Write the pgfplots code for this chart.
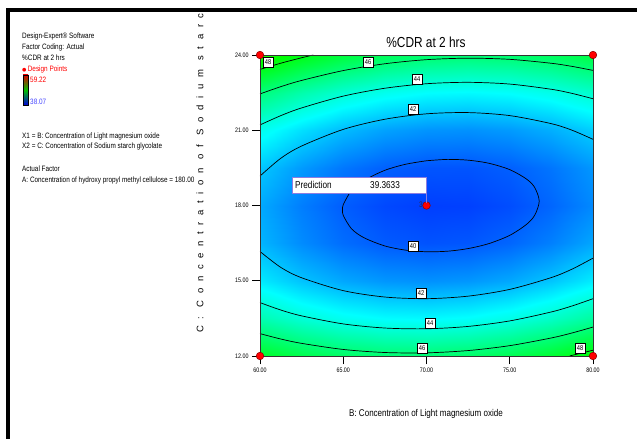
\documentclass[border=0pt]{standalone}
\usepackage{fontspec}
\setmainfont{Liberation Sans}
\newfontfamily\narrow[FakeStretch=0.82]{Liberation Sans}
\newfontfamily\spaced[LetterSpace=70]{Liberation Sans}
\newfontfamily\dejavu{DejaVu Sans}
\usepackage{pgfplots}
\pgfplotsset{compat=1.18}

\definecolor{ptred}{RGB}{255,0,0}
\definecolor{ptedge}{RGB}{140,0,0}
\definecolor{boxedge}{RGB}{140,125,225}
\definecolor{lowblue}{RGB}{70,70,255}
\definecolor{cntlbl}{RGB}{40,40,90}

% response surface, %CDR at 2 hrs
\pgfplotstableread{
x y f
60 12 47.81
62.5 12 47.08
65 12 46.58
67.5 12 46.32
70 12 46.29
72.5 12 46.50
75 12 46.95
77.5 12 47.63
80 12 48.55
60 13.5 44.94
62.5 13.5 44.16
65 13.5 43.62
67.5 13.5 43.31
70 13.5 43.25
72.5 13.5 43.41
75 13.5 43.82
77.5 13.5 44.46
80 13.5 45.33
60 15 42.95
62.5 15 42.12
65 15 41.54
67.5 15 41.19
70 15 41.08
72.5 15 41.20
75 15 41.56
77.5 15 42.16
80 15 42.99
60 16.5 41.83
62.5 16.5 40.96
65 16.5 40.33
67.5 16.5 39.94
70 16.5 39.78
72.5 16.5 39.86
75 16.5 40.18
77.5 16.5 40.73
80 16.5 41.52
60 18 41.58
62.5 18 40.67
65 18 40.00
67.5 18 39.56
70 18 39.36
72.5 18 39.40
75 18 39.67
77.5 18 40.18
80 18 40.92
60 19.5 42.21
62.5 19.5 41.26
65 19.5 40.54
67.5 19.5 40.06
70 19.5 39.82
72.5 19.5 39.81
75 19.5 40.04
77.5 19.5 40.50
80 19.5 41.20
60 21 43.72
62.5 21 42.72
65 21 41.96
67.5 21 41.43
70 21 41.15
72.5 21 41.09
75 21 41.28
77.5 21 41.70
80 21 42.36
60 22.5 46.10
62.5 22.5 45.06
65 22.5 44.25
67.5 22.5 43.68
70 22.5 43.35
72.5 22.5 43.26
75 22.5 43.40
77.5 22.5 43.78
80 22.5 44.39
60 24 49.35
62.5 24 48.27
65 24 47.42
67.5 24 46.81
70 24 46.43
72.5 24 46.29
75 24 46.39
77.5 24 46.72
80 24 47.29
}\cdrgrid

\begin{document}
\begin{tikzpicture}
\useasboundingbox (0,0) rectangle (637pt,439pt);

\begin{axis}[
    at={(260pt,83pt)}, anchor=south west,
    width=333pt, height=301pt, scale only axis,
    view={0}{90},
    xmin=60, xmax=80, ymin=12, ymax=24,
    xtick={60,65,70,75,80}, ytick={12,15,18,21,24},
    ztick=\empty,
    xtick pos=left, ytick pos=left,
    tick align=outside, major tick length=8pt,
    tick style={black, line width=0.6pt},
    axis line style={line width=0.6pt, black!80},
    ticklabel style={font=\narrow\fontsize{6.5}{7}\selectfont,
        /pgf/number format/assume math mode=true,
        /pgf/number format/fixed, /pgf/number format/fixed zerofill,
        /pgf/number format/precision=2},
    colormap={de}{rgb255=(0,0,255) rgb255=(0,255,255) rgb255=(0,255,0) rgb255=(255,255,0) rgb255=(255,0,0)},
    point meta min=38.07, point meta max=59.22,
    clip=false, axis on top,
    contline/.style={black, line width=0.7pt, smooth, no marks},
]
\addplot3[surf, shader=interp, mesh/cols=9] table[x=x, y=y, z=f] {\cdrgrid};

% contour lines
\addplot3[contline] coordinates {(60,23.425,48) (61.25,23.673,48) (62.5,23.890,48) (63.2,24.0,48)};
\addplot3[contline] coordinates {(60,22.448,46) (61.25,22.738,46) (62.5,22.986,46) (65,23.379,46) (67.5,23.651,46) (70,23.814,46) (72.5,23.873,46) (75,23.827,46) (77.5,23.670,46) (78.75,23.545,46) (80,23.386,46)};
\addplot3[contline] coordinates {(60,21.212,44) (61.25,21.583,44) (62.5,21.890,44) (65,22.361,44) (67.5,22.675,44) (70,22.855,44) (72.5,22.911,44) (75,22.841,44) (77.5,22.633,44) (78.75,22.468,44) (80,22.256,44)};
\addplot3[contline] coordinates {(60,19.174,42) (61.25,19.883,42) (62.5,20.371,42) (65,21.034,42) (67.5,21.439,42) (70,21.655,42) (72.5,21.704,42) (75,21.584,42) (77.5,21.262,42) (78.75,20.999,42) (80,20.638,42)};
\addplot3[contline] coordinates {(70,19.784,40) (71.25,19.838,40) (72.5,19.807,40) (73.75,19.683,40) (75,19.430,40) (76,19.057,40) (76.5,18.716,40) (76.77,18.173,40) (76.5,17.614,40) (76,17.243,40) (75,16.810,40) (73.75,16.482,40) (72.5,16.283,40) (71.25,16.177,40) (70,16.156,40) (68.75,16.220,40) (67.5,16.387,40) (66.25,16.714,40) (65.5,17.069,40) (65,17.604,40) (64.96,17.82,40) (65,18.036,40) (65.5,18.601,40) (66.25,19.001,40) (67.5,19.403,40) (68.75,19.645,40) (70,19.784,40)};
\addplot3[contline] coordinates {(60,16.166,42) (61.25,15.532,42) (62.5,15.119,42) (65,14.606,42) (67.5,14.351,42) (70,14.285,42) (72.5,14.386,42) (75,14.656,42) (77.5,15.128,42) (78.75,15.466,42) (80,15.902,42)};
\addplot3[contline] coordinates {(60,14.128,44) (61.25,13.832,44) (62.5,13.600,44) (65,13.279,44) (67.5,13.115,44) (70,13.085,44) (72.5,13.179,44) (75,13.399,44) (77.5,13.757,44) (78.75,13.997,44) (80,14.284,44)};
\addplot3[contline] coordinates {(60,12.892,46) (61.25,12.677,46) (62.5,12.504,46) (65,12.261,46) (67.5,12.139,46) (70,12.126,46) (72.5,12.217,46) (75,12.413,46) (77.5,12.720,46) (78.75,12.920,46) (80,13.154,46)};
\addplot3[contline] coordinates {(78.6,12.0,48) (78.75,12.027,48) (79.375,12.126,48) (80,12.231,48)};

% design points
\addplot3[only marks, mark=*, mark size=3.8pt, mark options={fill=ptred, draw=ptedge, line width=0.5pt}]
    coordinates {(60,12,50) (60,24,50) (80,12,50) (80,24,50) (70,18,50)};
\end{axis}

\begin{scope}[x=1pt, y=-1pt, shift={(0pt,439pt)}]
% frame
\fill[black] (6,8) rectangle (637,12);
\fill[black] (6,8) rectangle (10,439);

% left panel
\begin{scope}[every node/.style={anchor=west, inner sep=0pt, font=\narrow\fontsize{7.8}{8}\selectfont}]
\node at (22,36) {Design-Expert\textregistered{} Software};
\node at (22,47) {Factor Coding: Actual};
\node at (22,58) {\%CDR at 2 hrs};
\node at (22,69.5) {{\dejavu\fontsize{5}{5}\selectfont\textcolor{ptred}{●}}\,\textcolor{ptred}{Design Points}};
\node at (30,80) {\textcolor{ptred}{59.22}};
\node at (30,102) {\textcolor{lowblue}{38.07}};
\node at (22,136) {X1 = B: Concentration of Light magnesium oxide};
\node at (22,146) {X2 = C: Concentration of Sodium starch glycolate};
\node at (22,169) {Actual Factor};
\node at (22,180) {A: Concentration of hydroxy propyl methyl cellulose = 180.00};
\end{scope}
\shade[top color=red!85!black, bottom color=blue!85!black, middle color=green!75!black] (23,75) rectangle (28,105);
\draw[black, line width=0.5pt] (23,75) rectangle (28,105);

% titles
\node[font=\narrow\fontsize{14.5}{15}\selectfont] at (426,42) {\%CDR at 2 hrs};
\node[font=\narrow\fontsize{9.8}{10}\selectfont] at (426,414) {B: Concentration of Light magnesium oxide};
\begin{scope}
\clip (0,12) rectangle (637,439);
\node[rotate=90, anchor=west, inner sep=0pt, font=\spaced\fontsize{9.5}{10}\selectfont] at (201,333) {C: Concentration of Sodium starch glycolate};
\end{scope}

% contour labels
\begin{scope}[every node/.style={fill=white, draw=black, line width=0.4pt, inner sep=0.5pt,
    minimum width=10pt, minimum height=10pt, font=\narrow\fontsize{7}{7}\selectfont}]
\node at (268,62) {48};
\node at (368,62) {46};
\node at (417,79) {44};
\node at (413,109) {42};
\node at (413,246) {40};
\node at (421,293) {42};
\node at (430,323) {44};
\node at (422,348) {46};
\node at (580,348) {48};
\end{scope}

% prediction flag
\draw[boxedge, line width=0.7pt] (426,193) -- (426,203);
\draw[boxedge, line width=0.7pt, fill=white] (292,177) rectangle (426,193);
\node[anchor=west, inner sep=0pt, font=\narrow\fontsize{10}{10}\selectfont] at (295,185) {Prediction};
\node[anchor=west, inner sep=0pt, font=\narrow\fontsize{10}{10}\selectfont] at (370,185) {39.3633};
\node[anchor=east, inner sep=0pt, text=cntlbl, font=\narrow\fontsize{8}{8}\selectfont] at (423,205) {3};
\end{scope}
\end{tikzpicture}
\end{document}
